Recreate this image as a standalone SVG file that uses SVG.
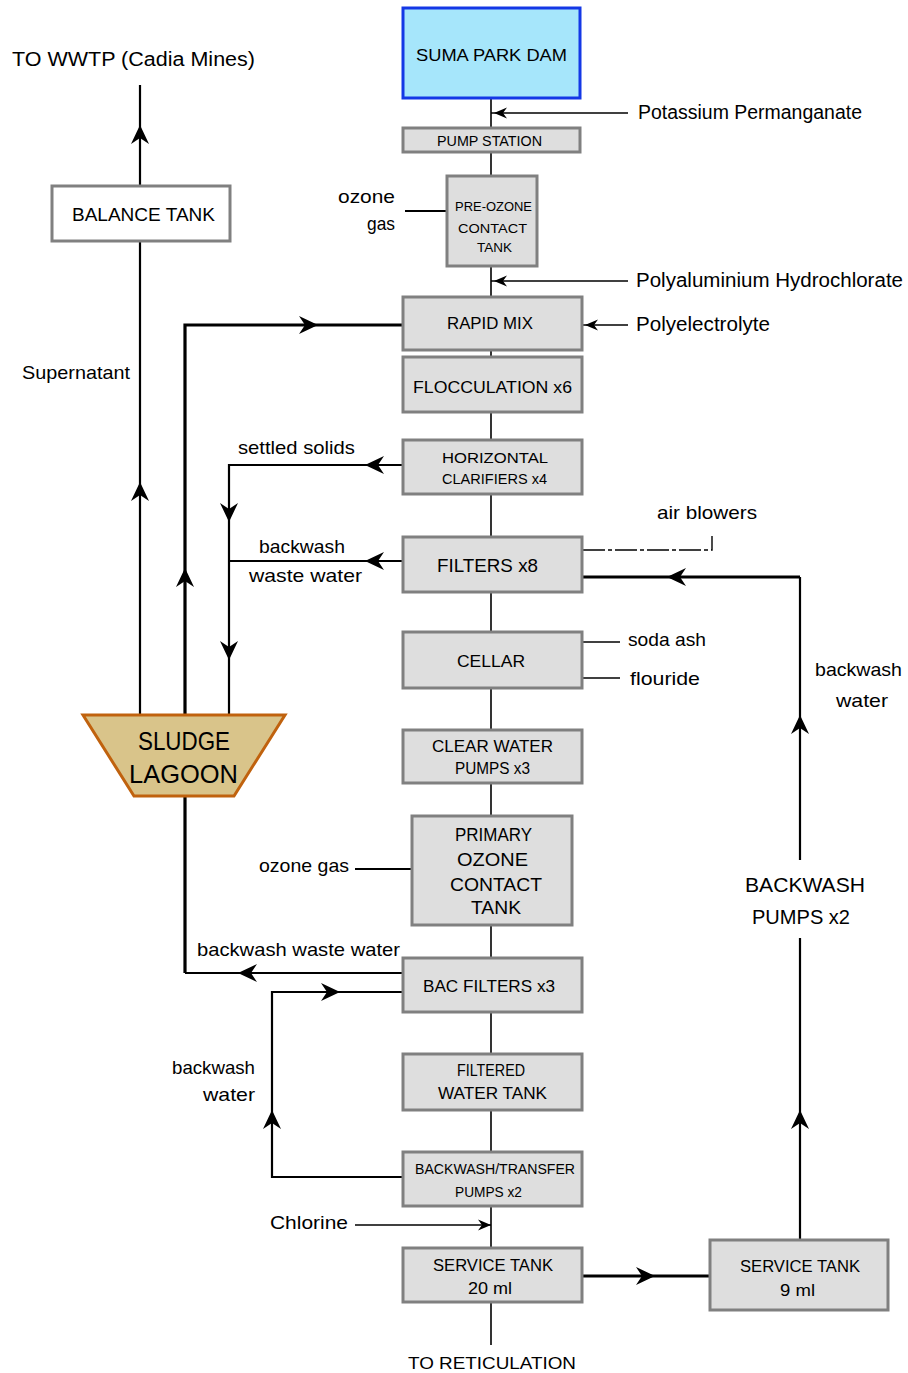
<svg xmlns="http://www.w3.org/2000/svg" xmlns:xlink="http://www.w3.org/1999/xlink" width="908" height="1373" viewBox="0 0 908 1373">
<style>
text{font-family:"Liberation Sans",Arial,sans-serif;fill:#000;}
.box{fill:#dedede;stroke:#808080;stroke-width:3;}
.wbox{fill:#ffffff;stroke:#808080;stroke-width:3;}
.dam{fill:#a6e6fb;stroke:#1438e6;stroke-width:3;}
.lagoon{fill:#d9c48a;stroke:#c0620e;stroke-width:3;}
.ln{fill:none;stroke:#000;stroke-width:1.6;}
.md{fill:none;stroke:#000;stroke-width:2.2;}
.tk{fill:none;stroke:#000;stroke-width:3.2;}
.dd{fill:none;stroke:#000;stroke-width:1.4;stroke-dasharray:22,3,4,3;}
.ah{fill:#000;}
.r{text-anchor:end;}
</style>
<defs>
<path id="ah" class="ah" d="M0,0 L-19,-9 L-13,0 L-19,9 Z"/>
<path id="ahs" class="ah" d="M0,0 L-13,-5.5 L-9,0 L-13,5.5 Z"/>
</defs>
<rect width="908" height="1373" fill="#ffffff"/>

<g id="connectors">
  <!-- main process line -->
  <line class="ln" x1="491" y1="98" x2="491" y2="1345"/>
  <!-- chemical feeds -->
  <line class="ln" x1="628" y1="113" x2="491" y2="113"/>
  <use xlink:href="#ahs" transform="translate(494,113) rotate(180)"/>
  <line class="ln" x1="628" y1="281" x2="491" y2="281"/>
  <use xlink:href="#ahs" transform="translate(494,281) rotate(180)"/>
  <line class="ln" x1="628" y1="325" x2="582" y2="325"/>
  <use xlink:href="#ahs" transform="translate(585,325) rotate(180)"/>
  <line class="md" x1="405" y1="211" x2="447" y2="211"/>
  <line class="md" x1="355" y1="869" x2="412" y2="869"/>
  <line class="ln" x1="582" y1="642" x2="620" y2="642"/>
  <line class="ln" x1="582" y1="678" x2="620" y2="678"/>
  <line class="ln" x1="355" y1="1225" x2="491" y2="1225"/>
  <use xlink:href="#ahs" transform="translate(491,1225)"/>
  <!-- air blowers -->
  <path class="dd" d="M583,550 H712 V536"/>
  <!-- balance tank / WWTP -->
  <line class="md" x1="140" y1="85" x2="140" y2="185"/>
  <use xlink:href="#ah" transform="translate(140,125) rotate(-90)"/>
  <line class="md" x1="140" y1="241" x2="140" y2="714"/>
  <use xlink:href="#ah" transform="translate(140,482) rotate(-90)"/>
  <!-- lagoon return to rapid mix -->
  <path class="tk" d="M185,714 V325 H403"/>
  <use xlink:href="#ah" transform="translate(185,568) rotate(-90)"/>
  <use xlink:href="#ah" transform="translate(318,325)"/>
  <!-- settled solids & filter backwash waste -->
  <path class="md" d="M403,465 H229 V714"/>
  <use xlink:href="#ah" transform="translate(365,465) rotate(180)"/>
  <use xlink:href="#ah" transform="translate(229,522) rotate(90)"/>
  <use xlink:href="#ah" transform="translate(229,660) rotate(90)"/>
  <line class="md" x1="403" y1="561" x2="229" y2="561"/>
  <use xlink:href="#ah" transform="translate(365,561) rotate(180)"/>
  <!-- BAC backwash waste to lagoon -->
  <path class="tk" d="M185,797 V973"/>
  <path class="md" d="M185,973 H403"/>
  <use xlink:href="#ah" transform="translate(238,973) rotate(180)"/>
  <!-- BAC backwash water -->
  <path class="md" d="M403,1177 H272 V992 H403"/>
  <use xlink:href="#ah" transform="translate(272,1110) rotate(-90)"/>
  <use xlink:href="#ah" transform="translate(340,992)"/>
  <!-- service tanks and backwash pumps -->
  <line class="tk" x1="582" y1="1276" x2="710" y2="1276"/>
  <use xlink:href="#ah" transform="translate(655,1276)"/>
  <line class="md" x1="800" y1="1240" x2="800" y2="938"/>
  <line class="md" x1="800" y1="860" x2="800" y2="577"/>
  <line class="tk" x1="800" y1="577" x2="582" y2="577"/>
  <use xlink:href="#ah" transform="translate(667,577) rotate(180)"/>
  <use xlink:href="#ah" transform="translate(800,715) rotate(-90)"/>
  <use xlink:href="#ah" transform="translate(800,1110) rotate(-90)"/>
</g>

<g id="labels">
  <text x="12" y="66" font-size="20" textLength="243" lengthAdjust="spacingAndGlyphs">TO WWTP (Cadia Mines)</text>
  <text x="638" y="119" font-size="20" textLength="224" lengthAdjust="spacingAndGlyphs">Potassium Permanganate</text>
  <text x="395" y="203" font-size="19" class="r" textLength="57" lengthAdjust="spacingAndGlyphs">ozone</text>
  <text x="395" y="230" font-size="19" class="r" textLength="28" lengthAdjust="spacingAndGlyphs">gas</text>
  <text x="636" y="287" font-size="20" textLength="267" lengthAdjust="spacingAndGlyphs">Polyaluminium Hydrochlorate</text>
  <text x="636" y="331" font-size="20" textLength="134" lengthAdjust="spacingAndGlyphs">Polyelectrolyte</text>
  <text x="22" y="379" font-size="19" textLength="108" lengthAdjust="spacingAndGlyphs">Supernatant</text>
  <text x="238" y="454" font-size="19" textLength="117" lengthAdjust="spacingAndGlyphs">settled solids</text>
  <text x="657" y="519" font-size="19" textLength="100" lengthAdjust="spacingAndGlyphs">air blowers</text>
  <text x="259" y="553" font-size="19" textLength="86" lengthAdjust="spacingAndGlyphs">backwash</text>
  <text x="249" y="582" font-size="19" textLength="113" lengthAdjust="spacingAndGlyphs">waste water</text>
  <text x="628" y="646" font-size="19" textLength="78" lengthAdjust="spacingAndGlyphs">soda ash</text>
  <text x="630" y="685" font-size="19" textLength="70" lengthAdjust="spacingAndGlyphs">flouride</text>
  <text x="815" y="676" font-size="19" textLength="87" lengthAdjust="spacingAndGlyphs">backwash</text>
  <text x="836" y="707" font-size="19" textLength="52" lengthAdjust="spacingAndGlyphs">water</text>
  <text x="259" y="872" font-size="19" textLength="90" lengthAdjust="spacingAndGlyphs">ozone gas</text>
  <text x="745" y="892" font-size="21" textLength="120" lengthAdjust="spacingAndGlyphs">BACKWASH</text>
  <text x="752" y="924" font-size="21" textLength="98" lengthAdjust="spacingAndGlyphs">PUMPS x2</text>
  <text x="197" y="956" font-size="19" textLength="203" lengthAdjust="spacingAndGlyphs">backwash waste water</text>
  <text x="172" y="1074" font-size="19" textLength="83" lengthAdjust="spacingAndGlyphs">backwash</text>
  <text x="203" y="1101" font-size="19" textLength="52" lengthAdjust="spacingAndGlyphs">water</text>
  <text x="270" y="1229" font-size="19" textLength="78" lengthAdjust="spacingAndGlyphs">Chlorine</text>
  <text x="408" y="1369" font-size="17" textLength="168" lengthAdjust="spacingAndGlyphs">TO RETICULATION</text>
</g>

<g id="n-dam">
  <rect class="dam" x="403" y="8" width="177" height="90"/>
  <text x="416" y="61" font-size="17" textLength="151" lengthAdjust="spacingAndGlyphs">SUMA PARK DAM</text>
</g>
<g id="n-pump-station">
  <rect class="box" x="403" y="128" width="177" height="24"/>
  <text x="437" y="146" font-size="14" textLength="105" lengthAdjust="spacingAndGlyphs">PUMP STATION</text>
</g>
<g id="n-pre-ozone">
  <rect class="box" x="447" y="176" width="90" height="90"/>
  <text x="455" y="211" font-size="13" textLength="77" lengthAdjust="spacingAndGlyphs">PRE-OZONE</text>
  <text x="458" y="233" font-size="13" textLength="69" lengthAdjust="spacingAndGlyphs">CONTACT</text>
  <text x="477" y="252" font-size="13" textLength="35" lengthAdjust="spacingAndGlyphs">TANK</text>
</g>
<g id="n-rapid-mix">
  <rect class="box" x="403" y="297" width="179" height="53"/>
  <text x="447" y="329" font-size="17" textLength="86" lengthAdjust="spacingAndGlyphs">RAPID MIX</text>
</g>
<g id="n-flocculation">
  <rect class="box" x="403" y="357" width="179" height="55"/>
  <text x="413" y="393" font-size="17" textLength="159" lengthAdjust="spacingAndGlyphs">FLOCCULATION x6</text>
</g>
<g id="n-clarifiers">
  <rect class="box" x="403" y="440" width="179" height="54"/>
  <text x="442" y="463" font-size="15" textLength="106" lengthAdjust="spacingAndGlyphs">HORIZONTAL</text>
  <text x="442" y="484" font-size="15" textLength="105" lengthAdjust="spacingAndGlyphs">CLARIFIERS x4</text>
</g>
<g id="n-filters">
  <rect class="box" x="403" y="537" width="179" height="55"/>
  <text x="437" y="572" font-size="19" textLength="101" lengthAdjust="spacingAndGlyphs">FILTERS x8</text>
</g>
<g id="n-cellar">
  <rect class="box" x="403" y="632" width="179" height="56"/>
  <text x="457" y="667" font-size="17" textLength="68" lengthAdjust="spacingAndGlyphs">CELLAR</text>
</g>
<g id="n-clear-water">
  <rect class="box" x="403" y="730" width="179" height="53"/>
  <text x="432" y="752" font-size="16" textLength="121" lengthAdjust="spacingAndGlyphs">CLEAR WATER</text>
  <text x="455" y="774" font-size="16" textLength="75" lengthAdjust="spacingAndGlyphs">PUMPS x3</text>
</g>
<g id="n-primary-ozone">
  <rect class="box" x="412" y="816" width="160" height="109"/>
  <text x="455" y="841" font-size="18" textLength="77" lengthAdjust="spacingAndGlyphs">PRIMARY</text>
  <text x="457" y="866" font-size="18" textLength="71" lengthAdjust="spacingAndGlyphs">OZONE</text>
  <text x="450" y="891" font-size="18" textLength="92" lengthAdjust="spacingAndGlyphs">CONTACT</text>
  <text x="471" y="914" font-size="18" textLength="50" lengthAdjust="spacingAndGlyphs">TANK</text>
</g>
<g id="n-bac-filters">
  <rect class="box" x="403" y="958" width="179" height="54"/>
  <text x="423" y="992" font-size="17" textLength="132" lengthAdjust="spacingAndGlyphs">BAC FILTERS x3</text>
</g>
<g id="n-filtered-water">
  <rect class="box" x="403" y="1054" width="179" height="56"/>
  <text x="457" y="1076" font-size="16" textLength="68" lengthAdjust="spacingAndGlyphs">FILTERED</text>
  <text x="438" y="1099" font-size="16" textLength="109" lengthAdjust="spacingAndGlyphs">WATER TANK</text>
</g>
<g id="n-backwash-transfer">
  <rect class="box" x="403" y="1152" width="179" height="54"/>
  <text x="415" y="1174" font-size="14" textLength="160" lengthAdjust="spacingAndGlyphs">BACKWASH/TRANSFER</text>
  <text x="455" y="1197" font-size="14" textLength="67" lengthAdjust="spacingAndGlyphs">PUMPS x2</text>
</g>
<g id="n-service-20">
  <rect class="box" x="403" y="1248" width="179" height="54"/>
  <text x="433" y="1271" font-size="16" textLength="120" lengthAdjust="spacingAndGlyphs">SERVICE TANK</text>
  <text x="468" y="1294" font-size="16" textLength="44" lengthAdjust="spacingAndGlyphs">20 ml</text>
</g>
<g id="n-service-9">
  <rect class="box" x="710" y="1240" width="178" height="70"/>
  <text x="740" y="1272" font-size="16" textLength="120" lengthAdjust="spacingAndGlyphs">SERVICE TANK</text>
  <text x="780" y="1296" font-size="16" textLength="35" lengthAdjust="spacingAndGlyphs">9 ml</text>
</g>
<g id="n-balance-tank">
  <rect class="wbox" x="52" y="186" width="178" height="55"/>
  <text x="72" y="221" font-size="18" textLength="143" lengthAdjust="spacingAndGlyphs">BALANCE TANK</text>
</g>
<g id="n-sludge-lagoon">
  <polygon class="lagoon" points="83,715 285,715 234,796 134,796"/>
  <text x="138" y="750" font-size="25" textLength="92" lengthAdjust="spacingAndGlyphs">SLUDGE</text>
  <text x="129" y="783" font-size="25" textLength="109" lengthAdjust="spacingAndGlyphs">LAGOON</text>
</g>
</svg>
